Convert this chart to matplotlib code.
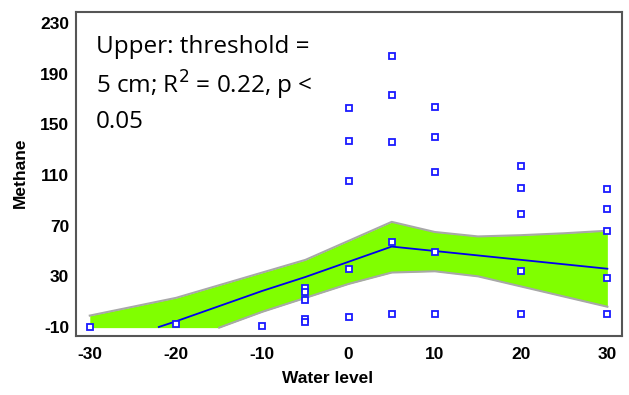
import matplotlib.pyplot as plt

plt.rcParams['axes.unicode_minus'] = False

# observed methane vs water level
obs_x = [-30, -20, -10,
         -5, -5, -5, -5, -5,
         0, 0, 0, 0, 0,
         5, 5, 5, 5, 5,
         10, 10, 10, 10, 10,
         20, 20, 20, 20, 20,
         30, 30, 30, 30, 30]
obs_y = [-10, -8, -9,
         21, 18, 11, -4, -6,
         163, 137, 105, 36, -2,
         204, 173, 136, 57, 0,
         164, 140, 112, 49, 0,
         117, 100, 79, 34, 0,
         99, 83, 66, 29, 0]

# fitted threshold model
fit_x = [-22, -20, -10, -5, 0, 5, 10, 20, 30]
fit_y = [-10, -5.5, 18.5, 29.5, 41.5, 53.5, 50, 43, 36]

# confidence band (lower edge floored at -10 up to x = -15)
band_x = [-30, -25, -20, -15, -10, -5, 0, 5, 10, 15, 20, 25, 30]
band_hi = [-1, 6, 13, 23, 33, 43, 58, 73, 65, 61.5, 62.5, 64, 66]
band_lo = [-10.5, -10.5, -10.5, -10.5, 2, 13, 24, 33, 34, 30, 22, 14, 6]

x_ticks = [-30, -20, -10, 0, 10, 20, 30]
y_ticks = [-10, 30, 70, 110, 150, 190, 230]

fig = plt.figure(figsize=(6.29, 3.95), dpi=100)
ax = fig.add_axes([0.1208, 0.1494, 0.8681, 0.8202])

ax.fill_between(band_x, band_lo, band_hi, color='#80FF00', lw=0, zorder=1)
ax.plot(band_x, band_hi, color='#a8a8a8', lw=1.5, zorder=2)
ax.plot(band_x[3:], band_lo[3:], color='#a8a8a8', lw=1.5, zorder=2)
ax.plot(fit_x, fit_y, color='#0000ee', lw=1.3, zorder=3)
ax.plot(obs_x, obs_y, ls='none', marker='s', ms=4.5, mfc='white',
        mec='#1a1aff', mew=1.3, zorder=4)

ax.set_xlim(-31.6, 31.7)
ax.set_ylim(-17.1, 238.7)
ax.set_xticks(x_ticks)
ax.set_yticks(y_ticks)
ax.tick_params(axis='y', length=0, pad=5)
ax.tick_params(axis='x', length=0, pad=8)
for lab in ax.get_xticklabels() + ax.get_yticklabels():
    lab.set_fontfamily('Liberation Sans')
    lab.set_fontweight('bold')
    lab.set_fontsize(12.5)

for s in ax.spines.values():
    s.set_color('#555555')
    s.set_linewidth(1.5)

ax.set_xlabel('Water level', fontfamily='Liberation Sans', fontweight='bold',
              fontsize=12.5)
ax.set_ylabel('Methane', fontfamily='Liberation Sans', fontweight='bold',
              fontsize=12.5)
ax.xaxis.set_label_coords(0.461, -0.108)
ax.yaxis.set_label_coords(-0.088, 0.503)

ax.text(0.037, 0.93, 'Upper: threshold =\n5 cm; R$^2$ = 0.22, p <\n0.05',
        transform=ax.transAxes, ha='left', va='top', fontfamily='Open Sans',
        fontsize=17.5, linespacing=1.42)

fig.savefig('out.png', dpi=100)
